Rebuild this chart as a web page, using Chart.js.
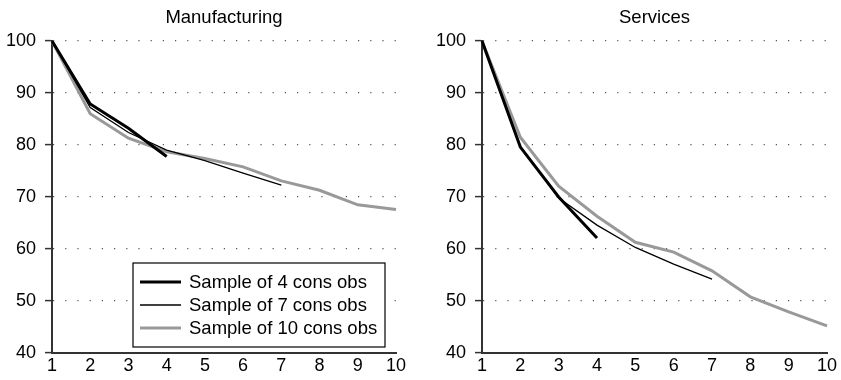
<!DOCTYPE html>
<html lang="en">
<head>
    <meta charset="UTF-8">
    <title>Manufacturing vs Services</title>
    <script src="https://cdn.jsdelivr.net/npm/chart.js"></script>
    <style>
        body {
            margin: 0;
            padding: 0;
            background: #fff;
        }
        .wrap {
            position: relative;
            width: 841px;
            height: 380px;
        }
        canvas {
            position: absolute;
            top: 0;
        }
    </style>
</head>
<body>
    <div class="wrap">
        <canvas id="manuChart" width="420" height="380" style="left:0"></canvas>
        <canvas id="servChart" width="421" height="380" style="left:420px"></canvas>
    </div>

    <script>
        // x positions (consecutive observations)
        const categories = ['1', '2', '3', '4', '5', '6', '7', '8', '9', '10'];
        const seriesLabels = ['Sample of 4 cons obs', 'Sample of 7 cons obs', 'Sample of 10 cons obs'];
        const yTicks = [40, 50, 60, 70, 80, 90, 100];

        // Manufacturing
        const manu4 = [100, 87.9, 83.2, 77.8];
        const manu7 = [100, 87.2, 82.4, 79.0, 77.0, 74.6, 72.3];
        const manu10 = [100, 86.0, 81.3, 78.7, 77.4, 75.8, 73.1, 71.3, 68.5, 67.6];

        // Services
        const serv4 = [100, 79.6, 70.0, 62.1];
        const serv7 = [100, 79.8, 69.8, 64.6, 60.3, 57.1, 54.2];
        const serv10 = [100, 81.5, 72.1, 66.3, 61.3, 59.4, 55.8, 50.8, 47.9, 45.2];

        const FONT = "'Liberation Sans', Arial, Helvetica, sans-serif";
        const lineStyles = [
            { color: '#000', width: 3 },
            { color: '#000', width: 1.3 },
            { color: '#999', width: 3 }
        ];

        function makeDatasets(a, b, c) {
            return [a, b, c].map((d, i) => ({
                label: seriesLabels[i],
                data: d,
                borderColor: lineStyles[i].color,
                borderWidth: lineStyles[i].width,
                pointRadius: 0,
                tension: 0,
                fill: false
            }));
        }

        // title centred over the plot area
        const titlePlugin = {
            id: 'plotTitle',
            afterDraw(chart, args, opts) {
                const ctx = chart.ctx;
                const area = chart.chartArea;
                ctx.save();
                ctx.font = '18.5px ' + FONT;
                ctx.fillStyle = '#000';
                ctx.textAlign = 'center';
                ctx.textBaseline = 'middle';
                ctx.fillText(opts.text, (area.left + area.right) / 2, 18);
                ctx.restore();
            }
        };

        // boxed legend sitting inside the plot area
        const boxLegend = {
            id: 'boxLegend',
            afterDraw(chart, args, opts) {
                if (!opts.show) return;
                const ctx = chart.ctx;
                const x = 133, y = 263, w = 252, h = 84;
                ctx.save();
                ctx.fillStyle = '#fff';
                ctx.fillRect(x, y, w, h);
                ctx.strokeStyle = '#000';
                ctx.lineWidth = 1.2;
                ctx.strokeRect(x, y, w, h);
                ctx.font = '18.5px ' + FONT;
                ctx.textBaseline = 'middle';
                chart.data.datasets.forEach((ds, i) => {
                    const ry = y + 19 + i * 23;
                    ctx.beginPath();
                    ctx.strokeStyle = ds.borderColor;
                    ctx.lineWidth = ds.borderWidth;
                    ctx.moveTo(x + 7, ry);
                    ctx.lineTo(x + 48, ry);
                    ctx.stroke();
                    ctx.fillStyle = '#000';
                    ctx.fillText(ds.label, x + 56, ry + 1);
                });
                ctx.restore();
            }
        };

        function buildChart(id, title, datasets, axisWidth, padRight, showLegend) {
            return new Chart(document.getElementById(id), {
                type: 'line',
                data: { labels: categories, datasets: datasets },
                plugins: [titlePlugin, boxLegend],
                options: {
                    responsive: false,
                    animation: false,
                    devicePixelRatio: 1,
                    layout: { padding: { top: 41, right: padRight, left: 0, bottom: 0 } },
                    plugins: {
                        legend: { display: false },
                        tooltip: { enabled: false },
                        plotTitle: { text: title },
                        boxLegend: { show: showLegend }
                    },
                    scales: {
                        x: {
                            type: 'category',
                            offset: false,
                            grid: { drawOnChartArea: false, drawTicks: false },
                            border: { color: '#333', width: 2 },
                            ticks: {
                                color: '#000',
                                font: { family: FONT, size: 18 },
                                padding: 2,
                                maxRotation: 0,
                                autoSkip: false
                            },
                            afterFit: s => { s.height = 27; }
                        },
                        y: {
                            min: 40,
                            max: 100,
                            afterBuildTicks: s => { s.ticks = yTicks.map(v => ({ value: v })); },
                            grid: {
                                color: '#555',
                                lineWidth: 1.2,
                                tickLength: 7,
                                tickColor: '#333',
                                tickWidth: 1.5,
                                tickBorderDash: []
                            },
                            border: { color: '#333', width: 2, dash: [1.2, 11] },
                            ticks: {
                                color: '#000',
                                font: { family: FONT, size: 18 },
                                padding: 9
                            },
                            afterFit: s => { s.width = axisWidth; }
                        }
                    }
                }
            });
        }

        buildChart('manuChart', 'Manufacturing', makeDatasets(manu4, manu7, manu10), 52, 24, true);
        buildChart('servChart', 'Services', makeDatasets(serv4, serv7, serv10), 62, 14, false);
    </script>
</body>
</html>
